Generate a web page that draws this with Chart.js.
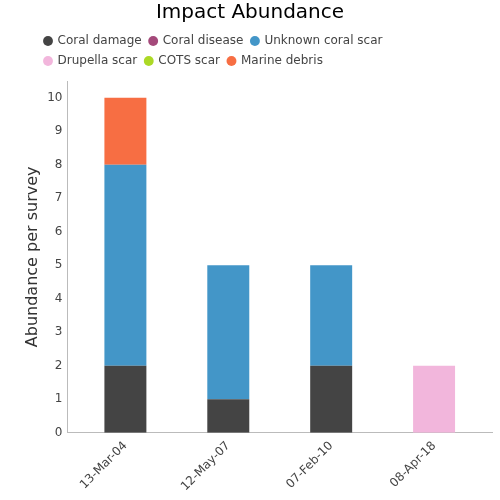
<!DOCTYPE html>
<html><head><meta charset="utf-8">
<script src="https://cdn.jsdelivr.net/npm/chart.js@4"></script>
<style>html,body{margin:0;padding:0;background:#fff}#w{width:500px;height:500px}</style>
</head><body><div id="w"><canvas id="c"></canvas></div>
<script>
const categories = ["13-Mar-04","12-May-07","07-Feb-10","08-Apr-18"];
const seriesNames = ["Coral damage","Coral disease","Unknown coral scar","Drupella scar","COTS scar","Marine debris"];
const coralDamage = [2,1,2,0];
const coralDisease = [0,0,0,0];
const unknownScar = [6,4,3,0];
const drupellaScar = [0,0,0,2];
const cotsScar = [0,0,0,0];
const marineDebris = [2,0,0,0];
const colors = ["#444444","#a4497a","#4396c8","#f2b6dc","#acd926","#f76e43"];
const values = [coralDamage,coralDisease,unknownScar,drupellaScar,cotsScar,marineDebris];
const yTicks = [0,1,2,3,4,5,6,7,8,9,10];
Chart.defaults.font.family = "'DejaVu Sans', sans-serif";
Chart.defaults.color = "#444";
const LEGEND_W = 400;
const legendShift = {
  id:'legendShift',
  beforeLayout(chart){
    const l = chart.legend; if(!l || l._wrapped) return;
    const orig = l.update;
    l.update = function(maxW, maxH, margins){
      const r = orig.call(this, Math.min(maxW, LEGEND_W), maxH, margins);
      this.height += 4;
      return r;
    };
    l._wrapped = true;
  },
  afterLayout(chart){
    const l = chart.legend;
    if(l){ l.left = 36.5; l.right = l.left + LEGEND_W; l.width = LEGEND_W; }
    const t = chart.titleBlock;
    if(t){ t.left = 0; t.right = 500; t.width = 500; }
  }
};
new Chart(document.getElementById('c'), {
  type: 'bar',
  plugins:[legendShift],
  data: {
    labels: categories,
    datasets: seriesNames.map((n,i)=>({label:n,data:values[i],backgroundColor:colors[i],borderWidth:0,categoryPercentage:1,barPercentage:0.408}))
  },
  options: {
    responsive:true, maintainAspectRatio:false, animation:false,
    layout:{padding:{left:17,right:8,bottom:0,top:0}},
    plugins:{
      title:{display:true,text:'Impact Abundance',color:'#000',font:{size:20,weight:'normal'},padding:{top:1,bottom:2}},
      legend:{align:'start',labels:{usePointStyle:true,pointStyle:'circle',boxWidth:7,boxHeight:7,font:{size:12},color:'#444',padding:8}},
      tooltip:{enabled:false}
    },
    scales:{
      x:{stacked:true,grid:{display:false,drawTicks:false,tickLength:0},border:{color:'#bbb'},
         afterBuildTicks:(s)=>{s._startValue=-0.563;s._valueRange=4.126;},
         ticks:{maxRotation:45,minRotation:45,font:{size:12},color:'#444',padding:6}},
      y:{stacked:true,min:0,max:10.5,grid:{display:false,drawTicks:false,tickLength:0},border:{color:'#bbb'},
         afterBuildTicks:(s)=>{s.ticks=yTicks.map(v=>({value:v}));},
         ticks:{font:{size:12},color:'#444',padding:5},
         title:{display:true,text:'Abundance per survey',font:{size:16},color:'#333',padding:{top:6,bottom:0}}}
    }
  }
});
</script></body></html>
